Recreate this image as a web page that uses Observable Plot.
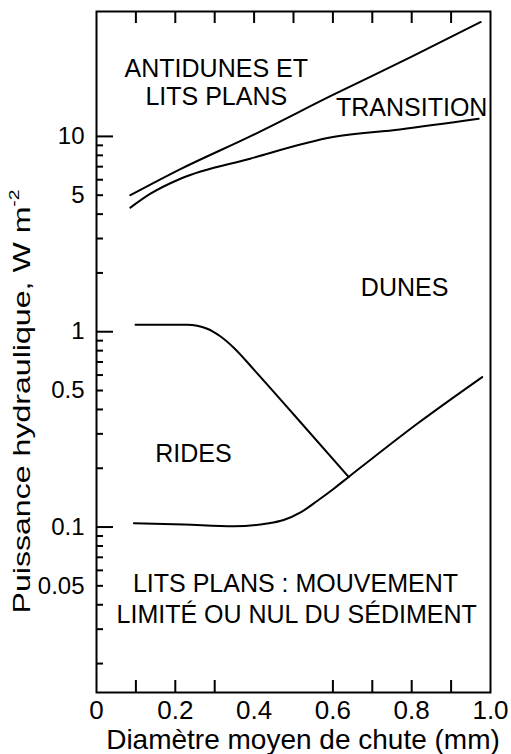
<!DOCTYPE html>
<html><head><meta charset="utf-8">
<script src="https://cdn.jsdelivr.net/npm/d3@7"></script>
<script src="https://cdn.jsdelivr.net/npm/@observablehq/plot@0.6"></script>
<style>body{margin:0;background:#fff}</style>
</head><body><div id="chart"></div>
<script>
// Boundary curves (x: mean fall diameter in mm, y: stream power W m-2)
const antiduneX = [0.086, 0.213, 0.39, 0.60, 0.80, 0.975];
const antiduneY = [5.0, 6.8, 10.0, 16.3, 25.6, 38.5];
const transitionX = [0.086, 0.137, 0.213, 0.39, 0.60, 0.77, 0.97];
const transitionY = [4.32, 5.09, 6.07, 7.69, 9.92, 10.85, 12.3];
const rippleTopX = [0.099, 0.23, 0.281, 0.315, 0.349, 0.40, 0.50, 0.640];
const rippleTopY = [1.086, 1.086, 1.036, 0.945, 0.826, 0.638, 0.378, 0.1805];
const lowerX = [0.095, 0.222, 0.349, 0.433, 0.475, 0.518, 0.56, 0.603, 0.640, 0.814, 0.979];
const lowerY = [0.1047, 0.103, 0.101, 0.1043, 0.1087, 0.1188, 0.136, 0.1576, 0.1805, 0.338, 0.586];

// Region labels
const regionText = ["ANTIDUNES ET", "LITS PLANS", "TRANSITION", "DUNES", "RIDES", "LITS PLANS : MOUVEMENT", "LIMITÉ OU NUL DU SÉDIMENT"];
const regionX = [0.304, 0.304, 0.800, 0.782, 0.246, 0.505, 0.508];
const regionY = [22.2, 15.9, 13.9, 1.68, 0.2355, 0.0512, 0.03527];

// Axes
const xDomain = [0, 1];
const yDomain = [0.01422, 43.6];
const xLabelTicks = [0, 0.2, 0.4, 0.6, 0.8, 1.0];
const xTopTicks = [0.1, 0.2, 0.3, 0.4, 0.5, 0.6, 0.7, 0.8, 0.9];
const xBottomTicks = [0.1, 0.2, 0.3, 0.6, 0.7, 0.8, 0.9];
const yLabelTicks = [10, 5, 1, 0.5, 0.1, 0.05];
const yMajorTicks = [10, 1, 0.1];
const yMinorTicks = [9, 8, 7, 6, 5, 4, 3, 2, 0.9, 0.8, 0.7, 0.6, 0.5, 0.4, 0.3, 0.2, 0.09, 0.08, 0.07, 0.06, 0.05, 0.04, 0.03, 0.02];
const xTitle = "Diamètre moyen de chute (mm)";
const yTitleMain = "Puissance hydraulique, W m";
const yTitleSup = "-2";

const W = 511, H = 754, ML = 96, MR = 21, MT = 11, MB = 62;
const frameW = W - ML - MR, frameH = H - MT - MB;

const series = [
  {name: "antidune", xs: antiduneX, ys: antiduneY},
  {name: "transition", xs: transitionX, ys: transitionY},
  {name: "rippleTop", xs: rippleTopX, ys: rippleTopY},
  {name: "lower", xs: lowerX, ys: lowerY}
];
const lineData = series.flatMap(s => s.xs.map((x, i) => ({series: s.name, x, y: s.ys[i]})));
const regions = regionText.map((t, i) => ({text: t, x: regionX[i], y: regionY[i]}));
const fmtX = d => d === 0 ? "0" : d.toFixed(1);

const plot = Plot.plot({
  width: W, height: H,
  marginLeft: ML, marginRight: MR, marginTop: MT, marginBottom: MB,
  style: {fontFamily: "'Liberation Sans', Arial, sans-serif", background: "#fff", color: "#000"},
  x: {domain: xDomain, axis: null},
  y: {type: "log", domain: yDomain, axis: null},
  marks: [
    // inward ticks
    Plot.ruleX(xBottomTicks, {x: d => d, insetTop: frameH - 12, stroke: "#000", strokeWidth: 2}),
    Plot.ruleX(xTopTicks, {x: d => d, insetBottom: frameH - 12, stroke: "#000", strokeWidth: 2}),
    Plot.ruleY(yMajorTicks, {y: d => d, insetRight: frameW - 17, stroke: "#000", strokeWidth: 2}),
    Plot.ruleY(yMinorTicks, {y: d => d, insetRight: frameW - 7, stroke: "#000", strokeWidth: 2}),
    // tick labels
    Plot.text(xLabelTicks, {x: d => d, frameAnchor: "bottom", text: fmtX, dy: 8, lineAnchor: "top", fontSize: 26, fill: "#000"}),
    Plot.text(yLabelTicks, {y: d => d, frameAnchor: "left", text: d => String(d), dx: -12, textAnchor: "end", lineAnchor: "middle", fontSize: 24, fill: "#000"}),
    Plot.frame({strokeWidth: 2, stroke: "#000"}),
    Plot.line(lineData, {x: "x", y: "y", z: "series", curve: "monotone-x", strokeWidth: 2, stroke: "#000"}),
    Plot.text(regions, {x: "x", y: "y", text: "text", fontSize: 25, lineAnchor: "middle", fill: "#000"}),
    Plot.text([xTitle], {text: d => d, frameAnchor: "bottom", dx: 9.5, dy: 48, fontSize: 28, lineAnchor: "middle", fill: "#000"}),
    Plot.text([yTitleMain], {text: d => d, frameAnchor: "left", rotate: -90, dx: -74, dy: 261.5, fontSize: 24, textAnchor: "start", lineAnchor: "middle", fill: "#000"})
  ]
});
document.getElementById("chart").appendChild(plot);

// superscript for the unit, and stretch to the reference length
const t = d3.select(plot).selectAll("text").filter(function() { return this.textContent === yTitleMain; });
t.append("tspan").attr("dy", "-0.75em").attr("font-size", "0.6em").text(yTitleSup);
t.attr("textLength", 424).attr("lengthAdjust", "spacingAndGlyphs");
</script>
</body></html>
